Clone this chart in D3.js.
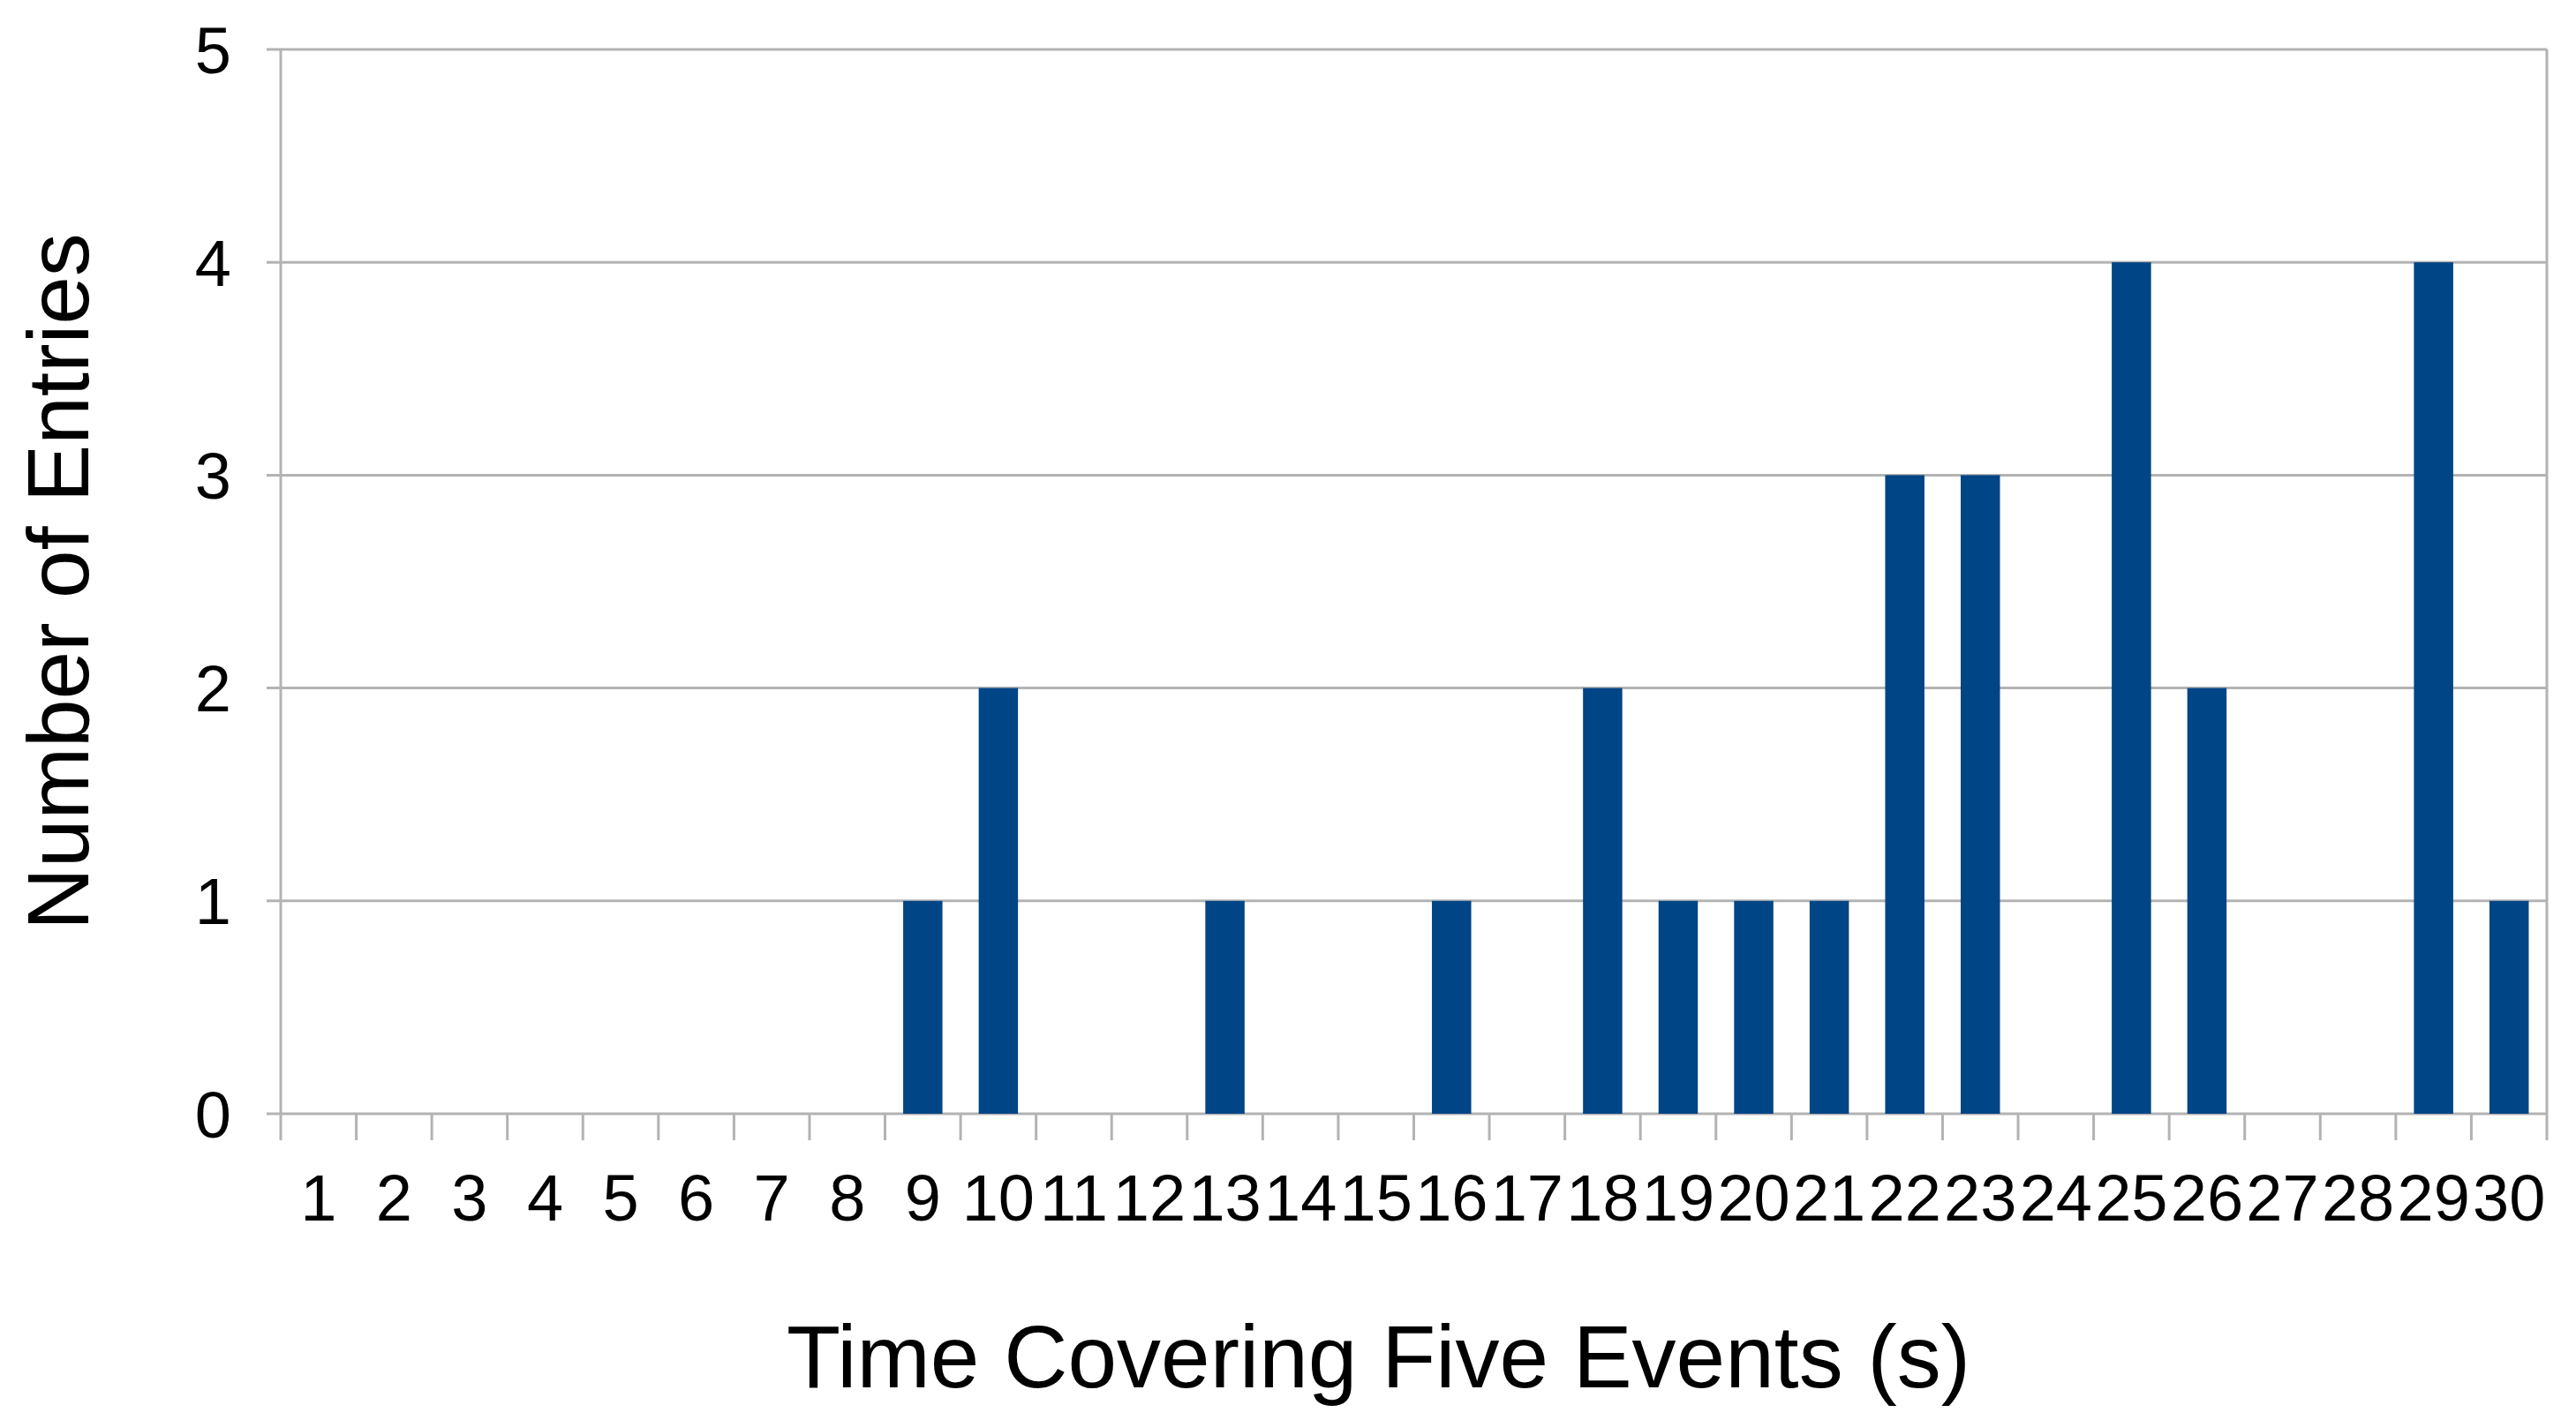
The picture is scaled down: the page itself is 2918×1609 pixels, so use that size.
<!DOCTYPE html>
<html>
<head>
<meta charset="utf-8">
<script src="https://cdn.jsdelivr.net/npm/d3@7"></script>
<style>
  body { margin: 0; background: #fff; }
  text { font-family: "Liberation Sans", Arial, sans-serif; fill: #000; }
</style>
</head>
<body>
<div id="chart"></div>
<script>
const categories = d3.range(1, 31).map(String);
const counts = [0,0,0,0,0,0,0,0,1,2,0,0,1,0,0,1,0,2,1,1,1,3,3,0,4,2,0,0,4,1];
const yTicks = [0, 1, 2, 3, 4, 5];

const width = 2918, height = 1609;
const margin = { left: 318, right: 33, top: 56, bottom: 347 };

const svg = d3.select("#chart").append("svg")
  .attr("width", width)
  .attr("height", height);

const x = d3.scaleBand()
  .domain(categories)
  .range([margin.left, width - margin.right])
  .paddingInner(0.48)
  .paddingOuter(0.24);

const band = d3.scaleBand()
  .domain(categories)
  .range([margin.left, width - margin.right]);

const y = d3.scaleLinear()
  .domain([0, 5])
  .range([height - margin.bottom, margin.top]);

const grey = "#b3b3b3";

// horizontal gridlines + y labels
svg.append("g")
  .selectAll("line")
  .data(yTicks)
  .join("line")
  .attr("x1", margin.left - 16)
  .attr("x2", width - margin.right)
  .attr("y1", d => y(d))
  .attr("y2", d => y(d))
  .attr("stroke", grey)
  .attr("stroke-width", 3);

svg.append("g")
  .selectAll("text")
  .data(yTicks)
  .join("text")
  .attr("x", 262)
  .attr("y", d => y(d))
  .attr("dy", "0.36em")
  .attr("text-anchor", "end")
  .attr("font-size", 74)
  .text(d => d);

// left axis line
svg.append("line")
  .attr("x1", margin.left).attr("x2", margin.left)
  .attr("y1", margin.top).attr("y2", y(0))
  .attr("stroke", grey).attr("stroke-width", 3);

// bars
svg.append("g")
  .selectAll("rect")
  .data(categories.map((c, i) => ({ c, v: counts[i] })).filter(d => d.v > 0))
  .join("rect")
  .attr("x", d => x(d.c))
  .attr("width", x.bandwidth())
  .attr("y", d => y(d.v))
  .attr("height", d => y(0) - y(d.v))
  .attr("fill", "#004586");

// x ticks between categories
const edges = categories.map(c => band(c)).concat([width - margin.right]);
svg.append("g")
  .selectAll("line")
  .data(edges)
  .join("line")
  .attr("x1", d => d).attr("x2", d => d)
  .attr("y1", y(0)).attr("y2", y(0) + 30)
  .attr("stroke", grey).attr("stroke-width", 3);

// right edge axis extension
svg.append("line")
  .attr("x1", width - margin.right).attr("x2", width - margin.right)
  .attr("y1", margin.top).attr("y2", y(0))
  .attr("stroke", grey).attr("stroke-width", 3);

svg.append("g")
  .selectAll("text")
  .data(categories)
  .join("text")
  .attr("x", d => band(d) + band.bandwidth() / 2)
  .attr("y", 1383)
  .attr("text-anchor", "middle")
  .attr("font-size", 74)
  .text(d => d);

// axis titles
svg.append("text")
  .attr("x", (margin.left + width - margin.right) / 2 - 40)
  .attr("y", 1572)
  .attr("text-anchor", "middle")
  .attr("font-size", 100)
  .text("Time Covering Five Events (s)");

svg.append("text")
  .attr("transform", `translate(100, ${(margin.top + y(0)) / 2}) rotate(-90)`)
  .attr("text-anchor", "middle")
  .attr("font-size", 98)
  .text("Number of Entries");
</script>
</body>
</html>
